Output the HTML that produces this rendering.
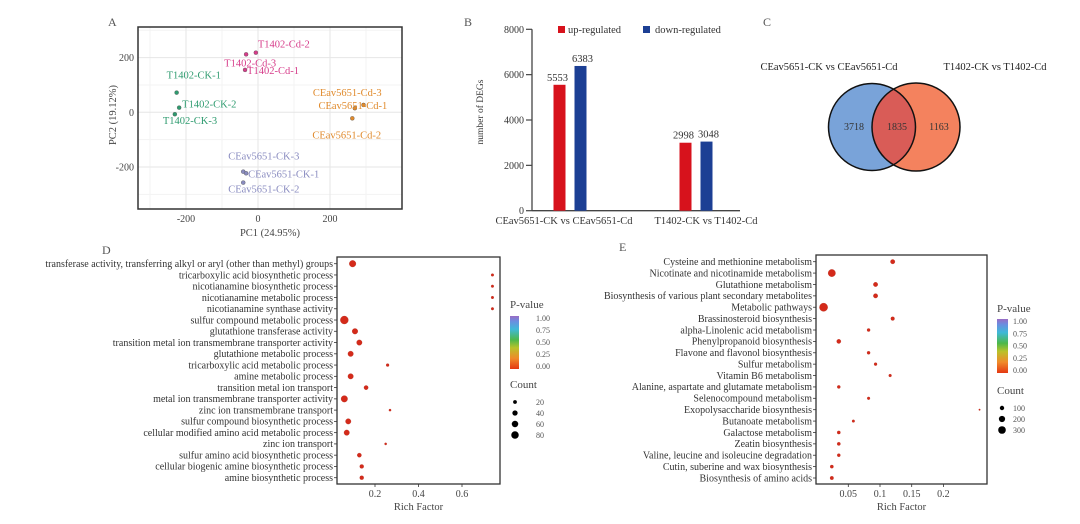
<!DOCTYPE html>
<html><head><meta charset="utf-8">
<style>
html,body{margin:0;padding:0;background:#fff;}
svg{display:block;font-family:"Liberation Serif",serif;}
</style></head>
<body>
<svg id="fig" width="1080" height="524" viewBox="0 0 1080 524">
<defs>
<linearGradient id="pg" x1="0" y1="1" x2="0" y2="0">
<stop offset="0" stop-color="#e43812"/><stop offset="0.2" stop-color="#f08a2a"/><stop offset="0.4" stop-color="#b9c22a"/><stop offset="0.55" stop-color="#4db84a"/><stop offset="0.75" stop-color="#3fb9d8"/><stop offset="0.9" stop-color="#6a8ee0"/><stop offset="1" stop-color="#9a6cc4"/>
</linearGradient>
</defs>
<g id="pA"></g>
<g id="pB"></g>
<g id="pC"></g>
<g id="pD"></g>
<g id="pE"></g>
</svg>
<script>
// ---------- Panel A data ----------
const pcaNames = ["T1402-Cd-2","T1402-Cd-3","T1402-Cd-1","T1402-CK-1","T1402-CK-2","T1402-CK-3","CEav5651-Cd-3","CEav5651-Cd-1","CEav5651-Cd-2","CEav5651-CK-3","CEav5651-CK-1","CEav5651-CK-2"];
const pcaX = [-6,-33,-36,-226,-219,-231,269,293,262,-41,-33,-41];
const pcaY = [218,212,155,72,17,-7,15,27,-22,-217,-223,-257];
const pcaGroup = [0,0,0,1,1,1,2,2,2,3,3,3];
const pcaXTicks = [-200,0,200];
const pcaYTicks = [200,0,-200];
// ---------- Panel B data ----------
const degCats = ["CEav5651-CK vs CEav5651-Cd","T1402-CK vs T1402-Cd"];
const degUp = [5553,2998];
const degDown = [6383,3048];
const degTicks = [0,2000,4000,6000,8000];
// ---------- Panel C data ----------
const vennLeftOnly = 3718, vennShared = 1835, vennRightOnly = 1163;
// ---------- Panel D data ----------
const goTerms = ["transferase activity, transferring alkyl or aryl (other than methyl) groups","tricarboxylic acid biosynthetic process","nicotianamine biosynthetic process","nicotianamine metabolic process","nicotianamine synthase activity","sulfur compound metabolic process","glutathione transferase activity","transition metal ion transmembrane transporter activity","glutathione metabolic process","tricarboxylic acid metabolic process","amine metabolic process","transition metal ion transport","metal ion transmembrane transporter activity","zinc ion transmembrane transport","sulfur compound biosynthetic process","cellular modified amino acid metabolic process","zinc ion transport","sulfur amino acid biosynthetic process","cellular biogenic amine biosynthetic process","amine biosynthetic process"];
const goRich = [0.097,0.74,0.74,0.74,0.74,0.059,0.108,0.128,0.088,0.258,0.088,0.159,0.059,0.269,0.077,0.07,0.249,0.128,0.139,0.139];
const goCount = [62,10,10,10,10,90,45,42,42,12,42,25,60,7,42,42,7,25,22,22];
const goTicks = [0.2,0.4,0.6];
const goCountLegend = [20,40,60,80];
// ---------- Panel E data ----------
const keggTerms = ["Cysteine and methionine metabolism","Nicotinate and nicotinamide metabolism","Glutathione metabolism","Biosynthesis of various plant secondary metabolites","Metabolic pathways","Brassinosteroid biosynthesis","alpha-Linolenic acid metabolism","Phenylpropanoid biosynthesis","Flavone and flavonol biosynthesis","Sulfur metabolism","Vitamin B6 metabolism","Alanine, aspartate and glutamate metabolism","Selenocompound metabolism","Exopolysaccharide biosynthesis","Butanoate metabolism","Galactose metabolism","Zeatin biosynthesis","Valine, leucine and isoleucine degradation","Cutin, suberine and wax biosynthesis","Biosynthesis of amino acids"];
const keggRich = [0.12,0.024,0.093,0.093,0.011,0.12,0.082,0.035,0.082,0.093,0.116,0.035,0.082,0.257,0.058,0.035,0.035,0.035,0.024,0.024];
const keggCount = [100,280,100,100,350,70,50,90,50,45,40,50,40,12,35,55,55,50,55,65];
const keggTicks = [0.05,0.1,0.15,0.2];
const keggCountLegend = [100,200,300];
const pTicks = ["1.00","0.75","0.50","0.25","0.00"];

const NS="http://www.w3.org/2000/svg";
function mk(parent,tag,attrs,text){const e=document.createElementNS(NS,tag);for(const k in attrs)e.setAttribute(k,attrs[k]);if(text!==undefined)e.textContent=text;parent.appendChild(e);return e;}

// ===== Panel A =====
(function(){
const g=document.getElementById('pA');
const L=138,R=402,T=27,B=209;
const sx=v=>258+v*0.36, sy=v=>112.3-v*0.2735;
const cols=["#d63c8a","#2e9b6f","#e08a2c","#8a8cc0"];
const t=mk(g,'text',{x:108,y:26,'font-size':12,fill:'#555'},'A');

[-300,-100,100,300].forEach(v=>{if(sx(v)>L&&sx(v)<R)mk(g,'line',{x1:sx(v),x2:sx(v),y1:T,y2:B,stroke:'#f3f3f3','stroke-width':1});});
[300,100,-100,-300].forEach(v=>{if(sy(v)>T&&sy(v)<B)mk(g,'line',{x1:L,x2:R,y1:sy(v),y2:sy(v),stroke:'#f3f3f3','stroke-width':1});});
pcaXTicks.forEach(v=>{mk(g,'line',{x1:sx(v),x2:sx(v),y1:T,y2:B,stroke:'#e6e6e6','stroke-width':1});
 const e=mk(g,'text',{x:sx(v),y:B+13,'text-anchor':'middle','font-size':10,fill:'#444'},v);});
pcaYTicks.forEach(v=>{mk(g,'line',{x1:L,x2:R,y1:sy(v),y2:sy(v),stroke:'#e6e6e6','stroke-width':1});
 const e=mk(g,'text',{x:L-4,y:sy(v)+3.5,'text-anchor':'end','font-size':10,fill:'#444'},v);});
const box=mk(g,'rect',{x:L,y:T,width:R-L,height:B-T,fill:'none',stroke:'#333','stroke-width':1.5});

const xl=mk(g,'text',{x:270,y:236,'text-anchor':'middle','font-size':10.5,fill:'#444'},'PC1 (24.95%)');

const yl=mk(g,'text',{x:0,y:0,'text-anchor':'middle','font-size':10.5,fill:'#444',transform:'translate(116,115) rotate(-90)'},'PC2 (19.12%)');

// label offsets relative to the point
const off=[[2,-5,'start'],[4,12,'middle'],[2,4,'start'],[-10,-14,'start'],[3,0,'start'],[-12,10,'start'],[-42,-12,'start'],[-45,4,'start'],[-40,20,'start'],[-15,-12,'start'],[2,4,'start'],[-15,10,'start']];
pcaX.forEach((v,i)=>{
 const c=mk(g,'circle',{cx:sx(v),cy:sy(pcaY[i]),r:2,fill:cols[pcaGroup[i]],stroke:'#555','stroke-width':0.4});
 
 const o=off[i];
 const tx=mk(g,'text',{x:sx(v)+o[0],y:sy(pcaY[i])+o[1],'font-size':10.5,fill:cols[pcaGroup[i]],'text-anchor':o[2]},pcaNames[i]);
 
});
})();

// ===== Panel B =====
(function(){
const g=document.getElementById('pB');
const AX=532,AR=740,T=29.3,B=210.7,max=8000;
const sy=v=>B-v/max*(B-T);
const centers=[570,696],bw=12,gap=9;
const t=mk(g,'text',{x:464,y:26,'font-size':12,fill:'#555'},'B');

mk(g,'line',{x1:AX,x2:AX,y1:T,y2:B,stroke:'#444','stroke-width':1.3});
mk(g,'line',{x1:AX,x2:AR,y1:B,y2:B,stroke:'#444','stroke-width':1.3});
degTicks.forEach(v=>{mk(g,'line',{x1:AX-6,x2:AX,y1:sy(v),y2:sy(v),stroke:'#444','stroke-width':1.2});
 const e=mk(g,'text',{x:AX-8,y:sy(v)+3.5,'text-anchor':'end','font-size':10,fill:'#333'},v);});
const yl=mk(g,'text',{x:0,y:0,'text-anchor':'middle','font-size':9.5,fill:'#333',transform:'translate(483,112) rotate(-90)'},'number of DEGs');

degCats.forEach((c,i)=>{
 const ux=centers[i]-gap/2-bw, dx=centers[i]+gap/2;
 const r1=mk(g,'rect',{x:ux,y:sy(degUp[i]),width:bw,height:B-sy(degUp[i]),fill:'#d7121c'});
 
 const r2=mk(g,'rect',{x:dx,y:sy(degDown[i]),width:bw,height:B-sy(degDown[i]),fill:'#1c3f94'});
 
 const v1=mk(g,'text',{x:ux+bw/2-2,y:sy(degUp[i])-4,'text-anchor':'middle','font-size':10.5,fill:'#333'},degUp[i]);
 
 const v2=mk(g,'text',{x:dx+bw/2+2,y:sy(degDown[i])-4,'text-anchor':'middle','font-size':10.5,fill:'#333'},degDown[i]);
 
 const cl=mk(g,'text',{x:[564,706][i],y:224,'text-anchor':'middle','font-size':10.5,fill:'#333'},c);
 
});
const l1=mk(g,'rect',{x:558,y:26,width:7,height:7,fill:'#d7121c'});
const lt1=mk(g,'text',{x:568,y:33,'font-size':10.5,fill:'#333'},'up-regulated');
const l2=mk(g,'rect',{x:643,y:26,width:7,height:7,fill:'#1c3f94'});
const lt2=mk(g,'text',{x:655,y:33,'font-size':10.5,fill:'#333'},'down-regulated');
})();

// ===== Panel C =====
(function(){
const g=document.getElementById('pC');
const t=mk(g,'text',{x:763,y:26,'font-size':12,fill:'#555'},'C');
const a=mk(g,'text',{x:829,y:70,'text-anchor':'middle','font-size':10.5,fill:'#222'},'CEav5651-CK vs CEav5651-Cd');
const b=mk(g,'text',{x:995,y:70,'text-anchor':'middle','font-size':10.5,fill:'#222'},'T1402-CK vs T1402-Cd');
const c1=mk(g,'circle',{cx:872,cy:127,r:43.5,fill:'#79a3d9'});
const c2=mk(g,'circle',{cx:916,cy:127,r:44,fill:'#f4825e'});
mk(g,'clipPath',{id:'clL'});document.getElementById('clL').appendChild(document.createElementNS(NS,'circle'));
const cc=document.querySelector('#clL circle');cc.setAttribute('cx',872);cc.setAttribute('cy',127);cc.setAttribute('r',43.5);
const ov=mk(g,'circle',{cx:916,cy:127,r:44,fill:'#d95c57','clip-path':'url(#clL)'});
mk(g,'circle',{cx:872,cy:127,r:43.5,fill:'none',stroke:'#111','stroke-width':1.5});
mk(g,'circle',{cx:916,cy:127,r:44,fill:'none',stroke:'#111','stroke-width':1.5});
[[854,vennLeftOnly],[897,vennShared],[939,vennRightOnly]].forEach(p=>{const e=mk(g,'text',{x:p[0],y:130,'text-anchor':'middle','font-size':10,fill:'#333'},p[1]);});
})();

// ===== Dot plot helper =====
function dotPanel(g,o){
 const sx=v=>o.x0+v*o.k;
 const n=o.terms.length, sy=i=>o.first+i*(o.last-o.first)/(n-1);
 const t=mk(g,'text',{x:o.letterX,y:o.letterY,'font-size':12,fill:'#555'},o.letter);
 const box=mk(g,'rect',{x:o.L,y:o.T,width:o.R-o.L,height:o.B-o.T,fill:'none',stroke:'#333','stroke-width':1.3});
 
 o.terms.forEach((s,i)=>{
  mk(g,'line',{x1:o.L-3,x2:o.L,y1:sy(i),y2:sy(i),stroke:'#333','stroke-width':0.8});
  const e=mk(g,'text',{x:o.L-4,y:sy(i)+3.3,'text-anchor':'end','font-size':10,fill:'#333'},s);
  
  const c=mk(g,'circle',{cx:sx(o.rich[i]),cy:sy(i),r:Math.sqrt(o.count[i])*o.rk,fill:'#d42a1a',stroke:'#b0281a','stroke-width':0.3});
  
 });
 o.ticks.forEach(v=>{mk(g,'line',{x1:sx(v),x2:sx(v),y1:o.B,y2:o.B+3,stroke:'#333','stroke-width':0.8});
  const e=mk(g,'text',{x:sx(v),y:o.B+13,'text-anchor':'middle','font-size':10,fill:'#444'},v);});
 const xl=mk(g,'text',{x:(o.L+o.R)/2,y:o.B+26,'text-anchor':'middle','font-size':10.5,fill:'#444'},'Rich Factor');
 
 const pt=mk(g,'text',{x:o.lx,y:o.pY,'font-size':11,fill:'#444'},'P-value');
 const cb=mk(g,'rect',{x:o.lx,y:o.cbT,width:o.cbW,height:o.cbB-o.cbT,fill:'url(#pg)'});
 pTicks.forEach((p,i)=>{const e=mk(g,'text',{x:o.labX,y:o.cbT+3+i*(o.cbB-o.cbT-5)/4+2,'font-size':8,fill:'#555'},p);});
 const ct=mk(g,'text',{x:o.lx,y:o.cY,'font-size':11,fill:'#444'},'Count');
 o.cl.forEach((v,i)=>{const y=o.cY+14+i*o.cStep;
  const c=mk(g,'circle',{cx:o.lx+5,cy:y,r:Math.sqrt(v)*o.rk,fill:'#000'});
  const e=mk(g,'text',{x:o.labX,y:y+3,'font-size':8,fill:'#555'},v);});
}
dotPanel(document.getElementById('pD'),{terms:goTerms,rich:goRich,count:goCount,ticks:goTicks,cl:goCountLegend,
 x0:331.5,k:217.5,L:337,R:500,T:257,B:484,first:263.7,last:477.7,rk:0.42,letter:'D',letterX:102,letterY:254,
 lx:510,pY:308,cbT:316,cbB:369,cbW:9,labX:536,cY:388,cStep:11});
dotPanel(document.getElementById('pE'),{terms:keggTerms,rich:keggRich,count:keggCount,ticks:keggTicks,cl:keggCountLegend,
 x0:816.6,k:634,L:816,R:987,T:255,B:484,first:261.7,last:478,rk:0.22,letter:'E',letterX:619,letterY:251,
 lx:997,pY:312,cbT:319,cbB:373,cbW:11,labX:1013,cY:394,cStep:11});
</script>
</body></html>
